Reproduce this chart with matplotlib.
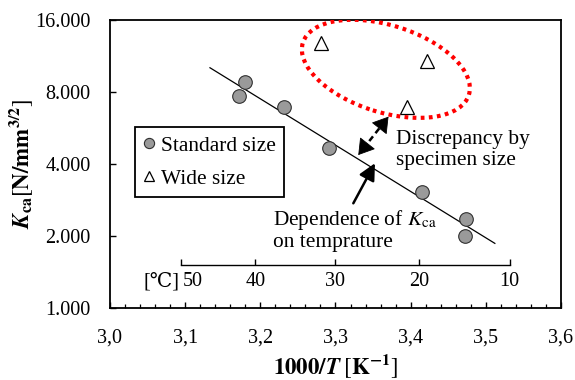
import numpy as np
import matplotlib
matplotlib.use("Agg")
import matplotlib.pyplot as plt
import matplotlib.transforms as mtransforms
from matplotlib.patches import Ellipse, FancyArrowPatch
from matplotlib.ticker import FixedLocator, MultipleLocator, NullLocator

plt.rcParams['font.family'] = ['Liberation Serif', 'DejaVu Serif']
plt.rcParams['mathtext.fontset'] = 'stix'

# ---------------- data ----------------
std_x = [3.1796, 3.1720, 3.2315, 3.2917, 3.4155, 3.4736, 3.4727]
std_y = [8.83, 7.70, 6.94, 4.68, 3.06, 2.35, 2.00]
wide_x = [3.2803, 3.4221, 3.3947]
wide_y = [12.8, 10.8, 6.9]
fit_range = [3.133, 3.512]

x_ticks = [3.0, 3.1, 3.2, 3.3, 3.4, 3.5, 3.6]
x_ticklabels = ['3,0', '3,1', '3,2', '3,3', '3,4', '3,5', '3,6']
y_ticks = [1, 2, 4, 8, 16]
y_ticklabels = ['1.000', '2.000', '4.000', '8.000', '16.000']
celsius_ticks = [50, 40, 30, 20, 10]

FS = 14.5      # tick labels
FT = 15.4      # annotation / legend text
FL = 16.5      # axis labels

fig = plt.figure(figsize=(5.75, 3.8), dpi=100)
ax = fig.add_axes([110/575, 72/380, 451/575, 288/380])

# fit line (exponential fit: log2(K) linear in 1000/T)
coef = np.polyfit(std_x, np.log2(std_y), 1)
fx = np.array(fit_range)
ax.plot(fx, 2 ** np.polyval(coef, fx), color='black', lw=0.9, zorder=2)

ax.plot(std_x, std_y, 'o', ms=9.8, mfc='#9a9a9a', mec='#303030', mew=0.8,
        ls='none', label='Standard size', zorder=3)
ax.plot(wide_x, wide_y, '^', ms=9.6, mfc='white', mec='black', mew=0.9,
        ls='none', label='Wide size', zorder=3)

ax.set_yscale('log', base=2)
ax.set_xlim(3.0, 3.6)
ax.set_ylim(1, 16)
ax.yaxis.set_major_locator(FixedLocator(y_ticks))
ax.yaxis.set_minor_locator(NullLocator())
ax.set_yticklabels(y_ticklabels)
ax.set_xticks(x_ticks)
ax.set_xticklabels(x_ticklabels)
ax.xaxis.set_minor_locator(MultipleLocator(0.02))
ax.tick_params(axis='x', which='major', direction='in', length=4.5, width=1.0,
               labelsize=FS, pad=15, top=False)
ax.tick_params(axis='x', which='minor', direction='in', length=3, width=0.9, top=False)
ax.tick_params(axis='y', which='major', direction='in', length=4, width=1.0,
               labelsize=FS, pad=14, right=False)
for s in ax.spines.values():
    s.set_linewidth(1.3)

ax.set_ylabel(r'$\boldsymbol{K}_{\mathbf{ca}}\left[\mathbf{N/mm^{3/2}}\right]$',
              fontsize=FL, labelpad=0)
ax.set_xlabel(r'$\mathbf{1000/}\boldsymbol{T}\;\left[\mathbf{K^{-1}}\right]$',
              fontsize=FL, labelpad=3)

# legend
leg = ax.legend(loc='upper left', bbox_to_anchor=(0.0554, 0.628), borderaxespad=0,
                fontsize=FT, frameon=True, fancybox=False, edgecolor='black',
                framealpha=1, borderpad=0.4, handlelength=0.5, handletextpad=0.3,
                labelspacing=0.62, markerscale=0.75, numpoints=1)
leg.get_frame().set_linewidth(1.3)

# Celsius secondary scale drawn inside the axes
def c2x(c):
    return 1000.0 / (np.asarray(c, dtype=float) + 273.15)

cax = ax.inset_axes([0, (308 - 265) / 288, 1, 0.0001])
cax.set_xlim(ax.get_xlim())
cax.patch.set_visible(False)
for k in ['top', 'left', 'right']:
    cax.spines[k].set_visible(False)
cax.spines['bottom'].set_bounds(c2x(50), c2x(10))
cax.spines['bottom'].set_linewidth(1.0)
cax.set_yticks([])
cax.set_xticks(c2x(celsius_ticks))
cax.set_xticklabels([str(c) for c in celsius_ticks])
cax.tick_params(axis='x', direction='in', length=4.5, width=1.0, labelsize=FS, pad=5)
# first label sits right of its tick, leaving room for the unit
first = cax.get_xticklabels()[0]
first.set_transform(first.get_transform() +
                    mtransforms.ScaledTranslation(0.12, 0, fig.dpi_scale_trans))
trans = mtransforms.blended_transform_factory(ax.transData, ax.transAxes)
ax.text(3.0925, (308 - 282) / 288, '[℃]', transform=trans, ha='right', va='center',
        fontsize=FS, family=['Liberation Serif', 'DejaVu Serif', 'Noto Sans CJK JP'])

# red dotted ellipse
ell = Ellipse((0, 0), 1.74, 0.87, angle=-17.5,
              transform=fig.dpi_scale_trans +
              mtransforms.ScaledTranslation(3.367, 10.0, ax.transData),
              fill=False, edgecolor='#ff0000', lw=3.0, linestyle=(0, (0.9, 1.05)),
              zorder=4)
ell.set_capstyle('butt')
ax.add_patch(ell)

# dashed double arrow: dashed shaft + two solid heads
pA = (3.3303, 4.36)
pB = (3.3705, 6.31)
dA = ax.transData.transform(pA)
dB = ax.transData.transform(pB)
u = (dB - dA) / np.hypot(*(dB - dA))
hl = 13.0  # head length in pixels
sA = ax.transData.inverted().transform(dA + u * hl * 0.6)
sB = ax.transData.inverted().transform(dB - u * hl * 0.6)
ax.plot([sA[0], sB[0]], [sA[1], sB[1]], color='black', lw=1.8,
        linestyle=(0, (2.4, 1.6)), zorder=5)
for tip, base in [(dA, dA + u * hl), (dB, dB - u * hl)]:
    h = FancyArrowPatch(ax.transData.inverted().transform(base),
                        ax.transData.inverted().transform(tip),
                        arrowstyle='-|>,head_length=0.4,head_width=0.25',
                        mutation_scale=25, lw=0.6,
                        color='black', zorder=5, shrinkA=0, shrinkB=0)
    ax.add_patch(h)

# solid arrow
a2 = FancyArrowPatch((3.3237, 2.74), (3.3525, 4.03), arrowstyle='-|>',
                     mutation_scale=25, lw=1.8, color='black', zorder=5,
                     shrinkA=0, shrinkB=0)
ax.add_patch(a2)

ax.text(3.3805, 4.58, 'Discrepancy by\nspecimen size', fontsize=FT,
        ha='left', va='center', linespacing=1.12)
ax.text(3.2172, 2.12, 'Dependence of $K_{\\mathrm{ca}}$\non temprature', fontsize=FT,
        ha='left', va='center', linespacing=1.05)

fig.savefig('out.png', dpi=100)
